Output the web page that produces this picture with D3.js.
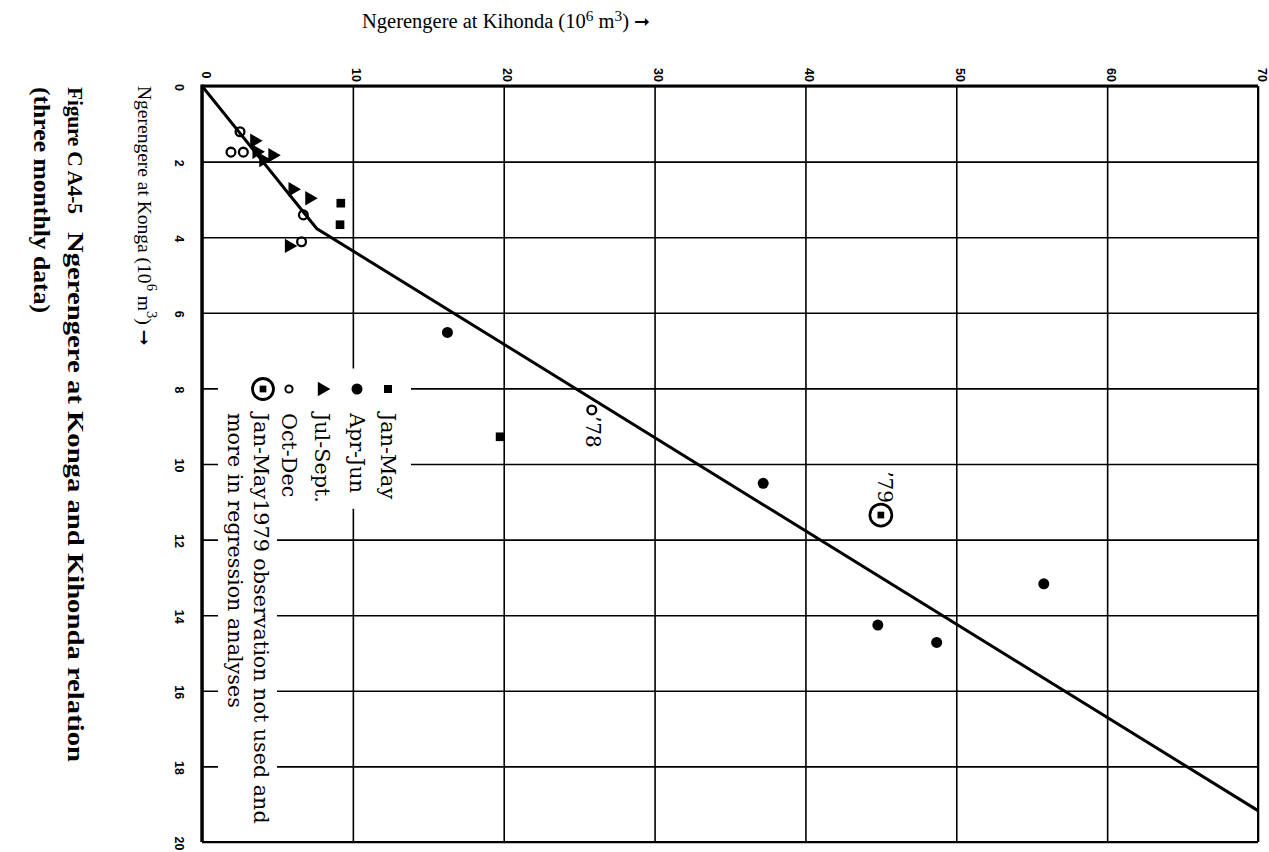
<!DOCTYPE html>
<html><head><meta charset="utf-8">
<script src="https://cdn.jsdelivr.net/npm/d3@7/dist/d3.min.js"></script>
<style>body{margin:0;background:#fff}svg{display:block}</style>
</head><body><svg id="c" width="1269" height="852"></svg>
<script>
// ---- data (x = Kihonda 10^6 m3, y = Konga 10^6 m3) ----
const kihondaTicks = [0, 10, 20, 30, 40, 50, 60, 70];
const kongaTicks = [0, 2, 4, 6, 8, 10, 12, 14, 16, 18, 20];
const janMay = [[9.2, 3.1], [9.15, 3.67], [19.76, 9.28]];
const aprJun = [[16.27, 6.52], [37.2, 10.51], [55.8, 13.17], [44.8, 14.26], [48.7, 14.72]];
const julSept = [[3.47, 1.45], [3.62, 1.74], [4.67, 1.83], [4.07, 1.96], [6.01, 2.73], [7.12, 2.97], [5.77, 4.23]];
const octDec = [[2.52, 1.21], [1.92, 1.75], [2.74, 1.75], [6.72, 3.41], [6.6, 4.12], [25.84, 8.57]];
const janMay1979 = [[45.0, 11.35]];
const regressionLine = [[0, 0], [7.6, 3.77], [70, 19.17]];
const yearLabels = ["’78", "’79"];
const legendLabels = ["Jan-May", "Apr-Jun", "Jul-Sept.", "Oct-Dec", "Jan-May1979 observation not used and", "more in regression analyses"];

// ---- layout ----
const svg = d3.select("#c");
const L = 202, T = 86, R = 1258, B = 842;
const x = d3.scaleLinear().domain([0, 70]).range([L, R]);
const y = d3.scaleLinear().domain([0, 20]).range([T, B]);
const serif = "'Liberation Serif', 'Times New Roman', serif";
const legendFont = "'DejaVu Serif', serif";

// gridlines
svg.append("g").attr("transform", `translate(0,${T})`)
  .call(d3.axisTop(x).tickValues(kihondaTicks).tickSize(-(B - T)).tickFormat(""))
  .call(g => g.select(".domain").remove())
  .selectAll("line").attr("stroke", "#000").attr("stroke-width", 1.6);
svg.append("g").attr("transform", `translate(${L},0)`)
  .call(d3.axisLeft(y).tickValues(kongaTicks).tickSize(-(R - L)).tickFormat(""))
  .call(g => g.select(".domain").remove())
  .selectAll("line").attr("stroke", "#000").attr("stroke-width", 1.6);

// frame
svg.append("line").attr("x1", L).attr("x2", R).attr("y1", T).attr("y2", T).attr("stroke", "#000").attr("stroke-width", 3.2);
svg.append("line").attr("x1", L).attr("x2", L).attr("y1", T - 1.5).attr("y2", B).attr("stroke", "#000").attr("stroke-width", 3.4);
svg.append("line").attr("x1", R).attr("x2", R).attr("y1", T).attr("y2", B).attr("stroke", "#000").attr("stroke-width", 2);
svg.append("line").attr("x1", L).attr("x2", R).attr("y1", B).attr("y2", B).attr("stroke", "#000").attr("stroke-width", 2);

// tick labels
svg.append("g").attr("transform", `translate(0,${T})`)
  .call(d3.axisTop(x).tickValues(kihondaTicks).tickSize(0).tickFormat(d3.format("d")))
  .call(g => g.select(".domain").remove())
  .selectAll("text")
  .attr("x", 0).attr("y", 0).attr("dy", null)
  .attr("transform", "translate(3,-11) rotate(90)")
  .attr("text-anchor", "middle").attr("dominant-baseline", "central")
  .attr("font-family", "'Liberation Sans', Arial, sans-serif").attr("font-weight", "bold").attr("font-size", 12.5).attr("fill", "#000");
svg.append("g").attr("transform", `translate(${L},0)`)
  .call(d3.axisLeft(y).tickValues(kongaTicks).tickSize(0).tickFormat(d3.format("d")))
  .call(g => g.select(".domain").remove())
  .selectAll("text")
  .attr("x", 0).attr("y", 0).attr("dy", null)
  .attr("transform", "translate(-23,1) rotate(90)")
  .attr("text-anchor", "middle").attr("dominant-baseline", "central")
  .attr("font-family", "'Liberation Sans', Arial, sans-serif").attr("font-weight", "bold").attr("font-size", 12.5).attr("fill", "#000");

// regression line
svg.append("path").datum(regressionLine)
  .attr("d", d3.line().x(d => x(d[0])).y(d => y(d[1])))
  .attr("fill", "none").attr("stroke", "#000").attr("stroke-width", 3);

// markers
const tri = d3.symbol(d3.symbolTriangle, 90)();
function drawSquares(g, data, size) {
  g.selectAll(null).data(data).join("path")
    .attr("d", d3.symbol(d3.symbolSquare, size)())
    .attr("transform", d => `translate(${x(d[0])},${y(d[1])})`).attr("fill", "#000");
}
const pts = svg.append("g");
drawSquares(pts, janMay, 75);
pts.selectAll(null).data(aprJun).join("circle")
  .attr("cx", d => x(d[0])).attr("cy", d => y(d[1])).attr("r", 5.5).attr("fill", "#000");
pts.selectAll(null).data(julSept).join("path")
  .attr("d", tri).attr("transform", d => `translate(${x(d[0])},${y(d[1])}) rotate(90)`).attr("fill", "#000");
pts.selectAll(null).data(octDec).join("circle")
  .attr("cx", d => x(d[0])).attr("cy", d => y(d[1])).attr("r", 4.4)
  .attr("fill", "none").attr("stroke", "#000").attr("stroke-width", 2.3);
pts.selectAll(null).data(janMay1979).join("circle")
  .attr("cx", d => x(d[0])).attr("cy", d => y(d[1])).attr("r", 11)
  .attr("fill", "none").attr("stroke", "#000").attr("stroke-width", 2.7);
drawSquares(pts, janMay1979, 45);

// year labels
const lab78 = octDec[octDec.length - 1], lab79 = janMay1979[0];
svg.append("text").text(yearLabels[0])
  .attr("transform", `translate(${x(lab78[0]) + 1},${y(lab78[1]) + 6}) rotate(90)`)
  .attr("text-anchor", "start").attr("dominant-baseline", "central")
  .attr("font-family", legendFont).attr("font-size", 20);
svg.append("text").text(yearLabels[1])
  .attr("transform", `translate(${x(lab79[0]) + 4},${y(lab79[1]) - 12}) rotate(90)`)
  .attr("text-anchor", "end").attr("dominant-baseline", "central")
  .attr("font-family", legendFont).attr("font-size", 20);

// legend
const leg = svg.append("g");
const bgShort = leg.append("rect").attr("fill", "#fff");
const bgLong = leg.append("rect").attr("fill", "#fff");
const markerY = 389, textY = 413;
const colX = [388, 357, 322, 289, 261, 235];
const short = leg.append("g"), longG = leg.append("g");
short.append("path").attr("d", d3.symbol(d3.symbolSquare, 64)()).attr("transform", `translate(${colX[0]},${markerY})`);
short.append("circle").attr("cx", colX[1]).attr("cy", markerY).attr("r", 5.5);
short.append("path").attr("d", tri).attr("transform", `translate(${colX[2]},${markerY}) rotate(90)`);
short.append("circle").attr("cx", colX[3]).attr("cy", markerY).attr("r", 3.6).attr("fill", "none").attr("stroke", "#000").attr("stroke-width", 2);
short.append("circle").attr("cx", 263).attr("cy", markerY).attr("r", 10.5).attr("fill", "none").attr("stroke", "#000").attr("stroke-width", 2.8);
short.append("path").attr("d", d3.symbol(d3.symbolSquare, 45)()).attr("transform", `translate(263,${markerY})`);
legendLabels.forEach((t, i) => {
  (i < 4 ? short : longG).append("text").text(t)
    .attr("transform", `translate(${colX[i]},${textY}) rotate(90)`)
    .attr("dominant-baseline", "central")
    .attr("font-family", legendFont).attr("font-size", 20.7);
});
const b1 = short.node().getBBox(), b2 = longG.node().getBBox();
bgShort.attr("x", 218).attr("y", b1.y - 10).attr("width", b1.x + b1.width + 11 - 218).attr("height", b1.height + 16);
bgLong.attr("x", 218).attr("y", b2.y - 6).attr("width", b2.x + b2.width + 4 - 218).attr("height", b2.height + 10);

// titles
function sup(textSel, parts) {
  parts.forEach(p => {
    const ts = textSel.append("tspan").text(p.t);
    if (p.sup) ts.attr("font-size", "75%").attr("dy", -7);
    if (p.down) ts.attr("dy", 7);
  });
}
const topT = svg.append("text").attr("x", 362).attr("y", 28)
  .attr("font-family", serif).attr("font-size", 20.5);
sup(topT, [{t: "Ngerengere at Kihonda (10"}, {t: "6", sup: true}, {t: " m", down: true}, {t: "3", sup: true}, {t: ")  ", down: true}]);
topT.append("tspan").text("➞").attr("font-family", "'DejaVu Sans'").attr("font-size", 19);

const leftT = svg.append("text").attr("transform", "translate(145,86) rotate(90)")
  .attr("dominant-baseline", "central").attr("font-family", serif).attr("font-size", 19.5);
sup(leftT, [{t: "Ngerengere at Konga (10"}, {t: "6", sup: true}, {t: " m", down: true}, {t: "3", sup: true}, {t: ") ", down: true}]);
leftT.append("tspan").text("➞").attr("font-family", "'DejaVu Sans'").attr("font-size", 19);

const capStyle = s => s.attr("dominant-baseline", "central").attr("font-family", serif)
  .attr("font-weight", "bold").attr("font-size", 23);
svg.append("text").attr("transform", "translate(75,87) rotate(90)").call(capStyle)
  .attr("font-size", 21.5).attr("textLength", 127).attr("lengthAdjust", "spacing").text("Figure C A4-5");
svg.append("text").attr("transform", "translate(75,232) rotate(90)").call(capStyle)
  .attr("textLength", 530).attr("lengthAdjust", "spacingAndGlyphs").text("Ngerengere at Konga and Kihonda relation");
svg.append("text").attr("transform", "translate(41,87) rotate(90)").call(capStyle)
  .attr("textLength", 226).attr("lengthAdjust", "spacingAndGlyphs").text("(three monthly data)");
</script></body></html>
